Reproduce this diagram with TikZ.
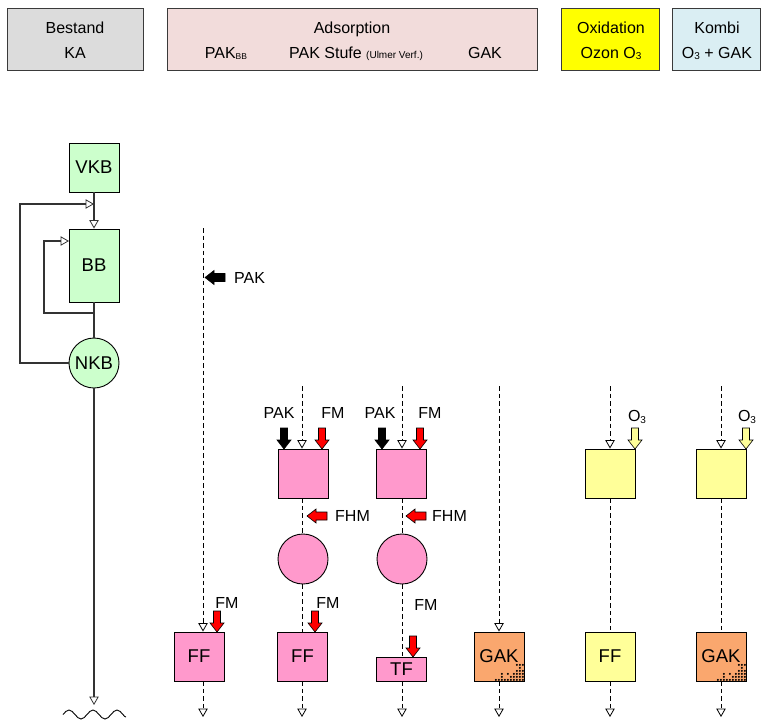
\documentclass[tikz,border=0pt]{standalone}
\usepackage{fontspec}
\setmainfont{Liberation Sans}
\usetikzlibrary{arrows.meta}

\definecolor{hdrgray}{HTML}{DCDCDC}
\definecolor{hdrrose}{HTML}{F2DCDB}
\definecolor{hdryellow}{HTML}{FFFF00}
\definecolor{hdrblue}{HTML}{DAEEF3}
\definecolor{unitgreen}{HTML}{CCFFCC}
\definecolor{unitpink}{HTML}{FF99CC}
\definecolor{unitorange}{HTML}{FAA76E}
\definecolor{unityellow}{HTML}{FFFF99}
\definecolor{dosered}{HTML}{FF0000}
\definecolor{framegray}{HTML}{3A3A3A}

% small lowered index text (PAK_BB, O_3)
\newcommand\lowsub[2][10]{{\fontsize{#1}{#1}\selectfont\raisebox{-1.5pt}{#2}}}

\tikzset{
  hdrbox/.style={draw=framegray, line width=1.1pt, anchor=north west, inner sep=0pt},
  hdrtxt/.style={anchor=base, inner sep=0pt, font=\fontsize{16}{18}\selectfont},
  lbl/.style={inner sep=0pt, font=\fontsize{16}{18}\selectfont},
  unit/.style={draw=black, line width=0.9pt, inner sep=0pt, minimum width=50pt,
    minimum height=49pt, font=\fontsize{18.5}{20}\selectfont},
  solidflow/.style={draw=black!80, line width=1.1pt},
  flow/.style={draw=black, line width=0.8pt, dash pattern=on 4.5pt off 3pt},
  tri/.style={-{Triangle[open, length=8.5pt, width=9.5pt, line width=0.8pt]}},
  redarrow/.style={draw=black, fill=dosered, line width=0.6pt},
  blackarrow/.style={draw=black, fill=black, line width=0.6pt},
  ozonearrow/.style={draw=black, fill=unityellow, line width=0.6pt},
  % block arrow pointing down, tip at the origin
  darrow/.pic={\path[pic actions] (0,0) -- (-7,-9) -- (-3.5,-9) -- (-3.5,-21)
      -- (3.5,-21) -- (3.5,-9) -- (7,-9) -- cycle;},
  % block arrow pointing left, tip at the origin
  larrow/.pic={\path[pic actions] (0,0) -- (9,-7) -- (9,-4) -- (20,-4)
      -- (20,4) -- (9,4) -- (9,7) -- cycle;},
  % granular filling in the lower right corner of a GAK filter
  gakdots/.pic={
    \pgfmathsetseed{11}
    \foreach \i in {0,...,10}{
      \foreach \j in {0,...,7}{
        \pgfmathsetmacro\dd{(\i*3+1.5)/34+(\j*3+1.5)/23}
        \pgfmathtruncatemacro\ok{(\dd<1)&&(rnd>\dd-0.45)}
        \ifnum\ok=1 \fill[black] (-\i*3-1.6,-\j*3-1.6) circle (1.05pt);\fi
      }
    }
  }
}

\begin{document}
\begin{tikzpicture}[x=1pt,y=-1pt]
\useasboundingbox (0,0) rectangle (762,720);

% ---------- header ----------
\node[hdrbox, fill=hdrgray, minimum width=136pt, minimum height=62pt] (hKA) at (7,8) {};
\node[hdrbox, fill=hdrrose, minimum width=370pt, minimum height=62pt] (hADS) at (167,8) {};
\node[hdrbox, fill=hdryellow, minimum width=98pt, minimum height=62pt] (hOX) at (561,8) {};
\node[hdrbox, fill=hdrblue, minimum width=88pt, minimum height=62pt] (hKOM) at (672,8) {};

\node[hdrtxt] (tBestand) at (75,33) {Bestand};
\node[hdrtxt] (tKA) at (75,58) {KA};
\node[hdrtxt] (tAds) at (352,33) {Adsorption};
\node[hdrtxt] (tPAKBB) at (226,58) {PAK\lowsub[8.5]{BB}};
\node[hdrtxt] (tStufe) at (356,58) {PAK Stufe {\fontsize{10}{10}\selectfont(Ulmer Verf.)}};
\node[hdrtxt] (tGAK) at (485,58) {GAK};
\node[hdrtxt] (tOx) at (611,33) {Oxidation};
\node[hdrtxt] (tOzon) at (611,58) {Ozon O\lowsub{3}};
\node[hdrtxt] (tKombi) at (717,33) {Kombi};
\node[hdrtxt] (tO3GAK) at (717,58) {O\lowsub{3} + GAK};

% ---------- existing plant ----------
\node[unit, fill=unitgreen] (vkb) at (94,167.5) {VKB};
\node[unit, fill=unitgreen, minimum height=73pt] (bb) at (94,265.5) {BB};
\node[unit, circle, fill=unitgreen, minimum size=50pt] (nkb) at (94,363) {NKB};
\coordinate (fbin) at (94,204);
\coordinate (bbjoin) at (94,313);
\coordinate (bbin) at (69,241);
\coordinate (kaout) at (94,705);

\draw[solidflow, tri] (vkb.south) -- (bb.north);
\draw[solidflow] (bb.south) -- (nkb.north);
\draw[solidflow, tri] (nkb.west) -| (20,204) -- (fbin);
\draw[solidflow, tri] (bbjoin) -| (44,241) -- (bbin);
\draw[solidflow, tri] (nkb.south) -- (kaout);
% outlet into the receiving water
\draw[line width=0.9pt] (63,714.5) sin (69,710) cos (75,714.5) sin (81,719)
  cos (87,714.5) sin (93,710) cos (99,714.5) sin (105,719) cos (111,714.5)
  sin (117,710) cos (123,714.5) sin (126,717);

% ---------- PAK dosed into the biology ----------
\coordinate (c1top) at (203,228);
\coordinate (c1end) at (203,717);
\node[unit, fill=unitpink] (ff1) at (199,656.5) {FF};
\draw[flow, tri] (c1top) -- (c1top |- ff1.north);
\draw[flow, tri] (c1top |- ff1.south) -- (c1end);
\pic[blackarrow] (pakin1) at (205,277.5) {larrow};
\node[lbl, anchor=west] (pak1) at (234,277.5) {PAK};
\pic[redarrow] (fmin1) at (217,632) {darrow};
\node[lbl] (fm1) at (227,602.5) {FM};

% ---------- PAK stage with filtration ----------
\coordinate (c2top) at (302,386);
\coordinate (c2end) at (302,717);
\node[unit, fill=unitpink] (m2) at (303,473.5) {};
\node[unit, circle, fill=unitpink, minimum size=50pt] (r2) at (303,559) {};
\node[unit, fill=unitpink] (ff2) at (302.5,656.5) {FF};
\draw[flow, tri] (c2top) -- (c2top |- m2.north);
\draw[flow] (c2top |- m2.south) -- (c2top |- r2.north);
\draw[flow] (c2top |- r2.south) -- (c2top |- ff2.north);
\draw[flow, tri] (c2top |- ff2.south) -- (c2end);
\pic[blackarrow] (pakin2) at (284,449) {darrow};
\pic[redarrow] (fmin2) at (322,449) {darrow};
\node[lbl] (pak2) at (279,412.5) {PAK};
\node[lbl] (fm2) at (333,412.5) {FM};
\pic[redarrow] (fhmin2) at (307,516) {larrow};
\node[lbl, anchor=west] (fhm2) at (335,516) {FHM};
\pic[redarrow] (fmin2b) at (315,632) {darrow};
\node[lbl] (fm2b) at (328,602.5) {FM};

% ---------- PAK stage with cloth filter ----------
\coordinate (c3top) at (402,386);
\coordinate (c3end) at (402,717);
\node[unit, fill=unitpink] (m3) at (401,473.5) {};
\node[unit, circle, fill=unitpink, minimum size=50pt] (r3) at (402,559) {};
\node[unit, fill=unitpink, minimum height=24pt] (tf3) at (401.5,669) {TF};
\draw[flow, tri] (c3top) -- (c3top |- m3.north);
\draw[flow] (c3top |- m3.south) -- (c3top |- r3.north);
\draw[flow] (c3top |- r3.south) -- (c3top |- tf3.north);
\draw[flow, tri] (c3top |- tf3.south) -- (c3end);
\pic[blackarrow] (pakin3) at (382,449) {darrow};
\pic[redarrow] (fmin3) at (420,449) {darrow};
\node[lbl] (pak3) at (380,412.5) {PAK};
\node[lbl] (fm3) at (430,412.5) {FM};
\pic[redarrow] (fhmin3) at (406,516) {larrow};
\node[lbl, anchor=west] (fhm3) at (432,516) {FHM};
\pic[redarrow] (fmin3b) at (413,657) {darrow};
\node[lbl] (fm3b) at (426,605) {FM};

% ---------- GAK filter ----------
\coordinate (c4top) at (499,386);
\coordinate (c4end) at (499,717);
\node[unit, fill=unitorange] (gak1) at (499,656.5) {};
\pic (grain1) at (gak1.south east) {gakdots};
\node[inner sep=0pt, font=\fontsize{18.5}{20}\selectfont] (gak1txt) at (gak1) {GAK};
\draw[flow, tri] (c4top) -- (c4top |- gak1.north);
\draw[flow, tri] (c4top |- gak1.south) -- (c4end);

% ---------- ozonation with sand filter ----------
\coordinate (c5top) at (610,386);
\coordinate (c5end) at (610,717);
\node[unit, fill=unityellow] (oz5) at (610.5,473.5) {};
\node[unit, fill=unityellow] (ff5) at (610,656.5) {FF};
\draw[flow, tri] (c5top) -- (c5top |- oz5.north);
\draw[flow] (c5top |- oz5.south) -- (c5top |- ff5.north);
\draw[flow, tri] (c5top |- ff5.south) -- (c5end);
\pic[ozonearrow] (o3in5) at (635,449) {darrow};
\node[lbl] (o3lbl5) at (637,417) {O\lowsub{3}};

% ---------- ozonation with GAK ----------
\coordinate (c6top) at (721,386);
\coordinate (c6end) at (721,717);
\node[unit, fill=unityellow] (oz6) at (721.5,473.5) {};
\node[unit, fill=unitorange] (gak2) at (721,656.5) {};
\pic (grain2) at (gak2.south east) {gakdots};
\node[inner sep=0pt, font=\fontsize{18.5}{20}\selectfont] (gak2txt) at (gak2) {GAK};
\draw[flow, tri] (c6top) -- (c6top |- oz6.north);
\draw[flow] (c6top |- oz6.south) -- (c6top |- gak2.north);
\draw[flow, tri] (c6top |- gak2.south) -- (c6end);
\pic[ozonearrow] (o3in6) at (746,449) {darrow};
\node[lbl] (o3lbl6) at (747,417) {O\lowsub{3}};
\end{tikzpicture}
\end{document}
